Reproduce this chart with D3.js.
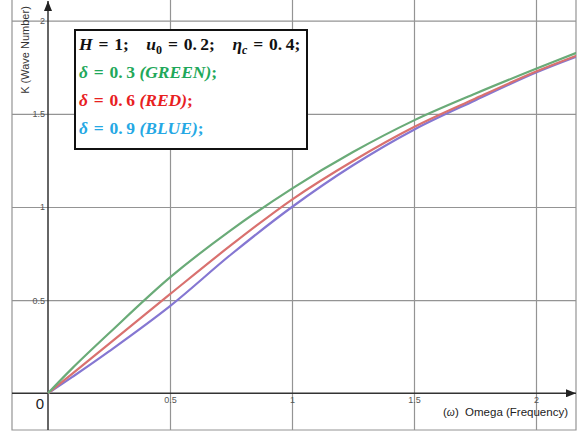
<!DOCTYPE html>
<html>
<head>
<meta charset="utf-8">
<script src="https://cdn.jsdelivr.net/npm/d3@7"></script>
<style>
  body { margin: 0; background: #fff; }
  svg { display: block; }
</style>
</head>
<body>
<div class="main"></div>
<script>
// values
var omega = [0, 0.1, 0.25, 0.5, 0.75, 1.0, 1.25, 1.5, 1.75, 2.0, 2.2];
var kGreen = [0, 0.135, 0.322, 0.622, 0.876, 1.099, 1.295, 1.465, 1.608, 1.742, 1.845];
var kRed = [0, 0.106, 0.265, 0.532, 0.795, 1.04, 1.247, 1.429, 1.581, 1.727, 1.829];
var kBlue = [0, 0.088, 0.225, 0.468, 0.745, 1.0, 1.224, 1.415, 1.572, 1.722, 1.824];
var xTicks = [0.5, 1, 1.5, 2];
var yTicks = [0.5, 1, 1.5, 2];
var seriesNames = ["green", "red", "blue"];

// set frame and svg
var fullwidth = 582, fullheight = 437;
var frame = { left: 12, right: 576, top: 0, bottom: 430 };
var svg = d3.select(".main")
  .append("svg")
  .attr("width", fullwidth)
  .attr("height", fullheight);

var x = d3.scaleLinear().domain([0, 2]).range([48, 536]);
var y = d3.scaleLinear().domain([0, 2]).range([393.3, 20.7]);

var lineColor = d3.scaleOrdinal()
  .domain(seriesNames)
  .range(["#6aab78", "#d9716f", "#8577d2"]);

//grid lines
var gx = svg.append("g")
  .attr("transform", "translate(0," + frame.bottom + ")")
  .call(d3.axisBottom(x).tickValues(xTicks).tickSize(-(frame.bottom - frame.top)).tickFormat(""));
var gy = svg.append("g")
  .attr("transform", "translate(" + frame.left + ",0)")
  .call(d3.axisLeft(y).tickValues(yTicks).tickSize(-(frame.right - frame.left)).tickFormat(""));
[gx, gy].forEach(function(g) {
  g.select(".domain").remove();
  g.selectAll("line").attr("stroke", "#949494").attr("stroke-width", 1.2);
});

//frame (left, right, bottom)
svg.append("path")
  .attr("d", "M" + frame.left + "," + frame.top + "V" + frame.bottom + "H" + frame.right + "V" + frame.top)
  .attr("fill", "none")
  .attr("stroke", "#949494")
  .attr("stroke-width", 1.2);

//axes with arrows
svg.append("defs").append("marker")
  .attr("id", "arrow")
  .attr("viewBox", "0 0 10 8")
  .attr("refX", 10).attr("refY", 4)
  .attr("markerWidth", 10).attr("markerHeight", 8)
  .attr("markerUnits", "userSpaceOnUse")
  .attr("orient", "auto")
  .append("path")
  .attr("d", "M0,0L10,4L0,8Z")
  .attr("fill", "#222");

svg.append("line")
  .attr("x1", frame.left).attr("x2", frame.right)
  .attr("y1", y(0)).attr("y2", y(0))
  .attr("stroke", "#333").attr("stroke-width", 1.5)
  .attr("marker-end", "url(#arrow)");
svg.append("line")
  .attr("x1", x(0)).attr("x2", x(0))
  .attr("y1", frame.bottom).attr("y2", 1)
  .attr("stroke", "#333").attr("stroke-width", 1.5)
  .attr("marker-end", "url(#arrow)");

//tick labels
var tx = svg.append("g")
  .attr("transform", "translate(0," + y(0) + ")")
  .call(d3.axisBottom(x).tickValues(xTicks).tickSize(0).tickPadding(3).tickFormat(d3.format("")));
var ty = svg.append("g")
  .attr("transform", "translate(" + x(0) + ",0)")
  .call(d3.axisLeft(y).tickValues(yTicks).tickSize(0).tickPadding(3).tickFormat(d3.format("")));
[tx, ty].forEach(function(g) {
  g.select(".domain").remove();
  g.selectAll("text")
    .attr("fill", "#555")
    .style("font-family", "Liberation Sans, Arial, sans-serif")
    .style("font-size", "9px");
});

svg.append("text")
  .attr("x", 40).attr("y", 409)
  .attr("text-anchor", "middle")
  .style("font-family", "Liberation Sans, Arial, sans-serif")
  .style("font-size", "15px")
  .attr("fill", "#222")
  .text("0");

//axis titles
var xt = svg.append("text")
  .attr("x", 568).attr("y", 416)
  .attr("text-anchor", "end")
  .attr("xml:space", "preserve")
  .style("font-family", "Liberation Sans, Arial, sans-serif")
  .style("font-size", "11.5px")
  .attr("fill", "#222");
xt.append("tspan").text("(");
xt.append("tspan").style("font-family", "Liberation Serif, serif").style("font-style", "italic").text("ω");
xt.append("tspan").text(")  Omega (Frequency)");

svg.append("text")
  .attr("transform", "translate(29,50) rotate(-90)")
  .attr("text-anchor", "middle")
  .style("font-family", "Liberation Sans, Arial, sans-serif")
  .style("font-size", "11px")
  .attr("fill", "#333")
  .text("K (Wave Number)");

//curves
svg.append("clipPath").attr("id", "plotclip")
  .append("rect")
  .attr("x", frame.left).attr("y", frame.top)
  .attr("width", frame.right - frame.left).attr("height", frame.bottom - frame.top);

var series = [
  { name: "green", values: kGreen },
  { name: "red", values: kRed },
  { name: "blue", values: kBlue }
];
var line = d3.line()
  .x(function(d) { return x(d[0]); })
  .y(function(d) { return y(d[1]); })
  .curve(d3.curveCatmullRom.alpha(0.5));

svg.append("g")
  .attr("clip-path", "url(#plotclip)")
  .selectAll("path")
  .data(series.slice().reverse())
  .join("path")
  .attr("fill", "none")
  .attr("stroke", function(d) { return lineColor(d.name); })
  .attr("stroke-width", 2.2)
  .attr("d", function(d) {
    return line(omega.map(function(w, i) { return [w, d.values[i]]; }));
  });

//legend box
var lg = svg.append("g");
lg.append("rect")
  .attr("x", 75).attr("y", 30)
  .attr("width", 232).attr("height", 119)
  .attr("fill", "#fff")
  .attr("stroke", "#111")
  .attr("stroke-width", 2);

var mathFont = "Liberation Serif, DejaVu Serif, serif";
var eq = "\u2004=\u2004";
function addLine(yy, color, parts) {
  var t = lg.append("text")
    .attr("x", 79).attr("y", yy)
    .attr("fill", color)
    .style("font-family", mathFont)
    .style("font-size", "17.5px")
    .style("font-weight", "bold")
    .attr("xml:space", "preserve");
  parts.forEach(function(p) {
    var s = t.append("tspan").text(p.t);
    if (p.i) s.style("font-style", "italic");
    if (p.sub) s.attr("dy", 4).style("font-size", "12px");
    if (p.up) s.attr("dy", -4);
  });
}
addLine(50, "#111", [
  { t: "H", i: 1 }, { t: eq + "1;    " },
  { t: "u", i: 1 }, { t: "0", sub: 1 }, { t: eq + "0.\u20092;    ", up: 1 },
  { t: "η", i: 1 }, { t: "c", i: 1, sub: 1 }, { t: eq + "0.\u20094;", up: 1 }
]);
addLine(78, "#1fa85a", [{ t: "δ", i: 1 }, { t: eq + "0.\u20093 " }, { t: "(GREEN)", i: 1 }, { t: ";" }]);
addLine(106, "#e8211f", [{ t: "δ", i: 1 }, { t: eq + "0.\u20096 " }, { t: "(RED)", i: 1 }, { t: ";" }]);
addLine(134, "#25a8e4", [{ t: "δ", i: 1 }, { t: eq + "0.\u20099 " }, { t: "(BLUE)", i: 1 }, { t: ";" }]);
</script>
</body>
</html>
